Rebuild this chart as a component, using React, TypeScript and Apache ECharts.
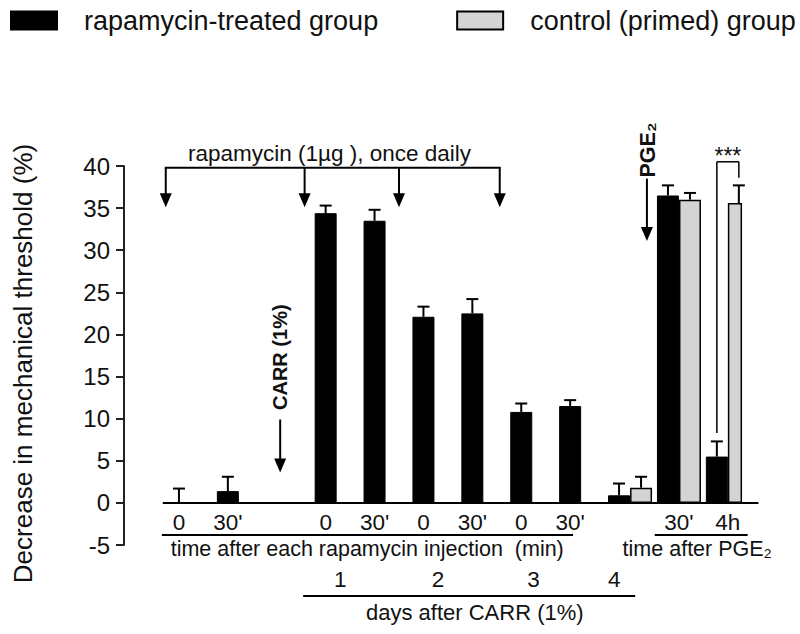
import React, { useEffect, useRef } from "react";
import * as echarts from "echarts";

// ---- data ----
const categories = ["d0-0", "d0-30", "CARR", "d1-0", "d1-30", "d2-0", "d2-30", "d3-0", "d3-30", "d4", "pge-30", "pge-4h"];
const timeTickLabels = ["0", "30'", "", "0", "30'", "0", "30'", "0", "30'", "", "", ""];
const pgeTickLabels = ["30'", "4h"];
const pgeTickSlots = [10, 11];
const dayTickLabels = ["1", "2", "3", "4"];
const dayTickSlots = [3.3, 5.3, 7.25, 8.9];
const rapamycinValues = [0, 1.4, null, 34.4, 33.5, 22.1, 22.5, 10.8, 11.5, 0.9, 36.5, 5.5];
const rapamycinErrTop = [1.7, 3.1, null, 35.3, 34.8, 23.3, 24.2, 11.8, 12.2, 2.3, 37.7, 7.3];
const controlValues = [null, null, null, null, null, null, null, null, null, 1.8, 36.0, 35.6];
const controlErrTop = [null, null, null, null, null, null, null, null, null, 3.1, 36.8, 37.7];
const rapaInjectionSlots = [-0.27, 2.57, 4.5, 6.56];
const yMin = -5;
const yMax = 40;
const yStep = 5;

const FONT = '"Liberation Sans", Arial, sans-serif';
const BAR_W = 22;

export default function App() {
  const ref = useRef<HTMLDivElement>(null);
  useEffect(() => {
    document.body.style.margin = "0";
    const chart = echarts.init(ref.current!, null, { renderer: "svg" });
    const errData: any[] = [];
    rapamycinValues.forEach((v, i) => {
      if (v !== null && rapamycinErrTop[i] !== null) errData.push([i, v, rapamycinErrTop[i], 0]);
    });
    controlValues.forEach((v, i) => {
      if (v !== null && controlErrTop[i] !== null) errData.push([i, v, controlErrTop[i], BAR_W]);
    });
    chart.setOption({
      animation: false,
      textStyle: { fontFamily: FONT },
      legend: {
        data: ["rapamycin-treated group", "control (primed) group"],
        left: 10,
        top: 7,
        padding: 0,
        itemWidth: 46,
        itemHeight: 18,
        itemGap: 78,
        icon: "rect",
        textStyle: { fontSize: 27, color: "#111", fontFamily: FONT, padding: [0, 0, 0, 22] },
      },
      grid: { left: 154.5, right: 58.7, top: 166, bottom: 89, containLabel: false },
      xAxis: {
        type: "category",
        data: categories,
        show: false,
      },
      yAxis: {
        type: "value",
        min: yMin,
        max: yMax,
        interval: yStep,
        offset: 30.5,
        name: "Decrease in mechanical threshold (%)",
        nameLocation: "middle",
        nameRotate: 90,
        nameGap: 88,
        nameTextStyle: { fontSize: 26, color: "#111", fontFamily: FONT, padding: [0, 16, 0, 0] },
        axisLine: { show: true, lineStyle: { color: "#222", width: 2 } },
        axisTick: { show: true, length: 8, lineStyle: { color: "#222", width: 2 } },
        axisLabel: { fontSize: 24, color: "#111", margin: 14, fontFamily: FONT },
        splitLine: { show: false },
      },
      series: [
        {
          name: "spacer",
          type: "bar",
          data: categories.map(() => null),
          barWidth: BAR_W,
          barGap: "0%",
          silent: true,
        },
        {
          name: "rapamycin-treated group",
          type: "bar",
          data: rapamycinValues,
          barWidth: BAR_W,
          barGap: "0%",
          itemStyle: { color: "#000", borderColor: "#000", borderWidth: 1 },
        },
        {
          name: "control (primed) group",
          type: "bar",
          data: controlValues,
          barWidth: BAR_W,
          barGap: "0%",
          itemStyle: { color: "#d4d4d4", borderColor: "#000", borderWidth: 1.5 },
        },
        {
          name: "err",
          type: "custom",
          data: errData,
          z: 5,
          renderItem: (_p: any, api: any) => {
            const x = api.value(0);
            const lo = api.coord([x, api.value(1)]);
            const hi = api.coord([x, api.value(2)]);
            const cx = lo[0] + api.value(3);
            return {
              type: "group",
              children: [
                { type: "line", shape: { x1: cx, y1: lo[1], x2: cx, y2: hi[1] }, style: { stroke: "#000", lineWidth: 2 } },
                { type: "line", shape: { x1: cx - 6, y1: hi[1], x2: cx + 6, y2: hi[1] }, style: { stroke: "#000", lineWidth: 2 } },
              ],
            };
          },
        },
      ],
    });

    const p0 = chart.convertToPixel({ xAxisIndex: 0, yAxisIndex: 0 }, [0, 0]) as number[];
    const p1 = chart.convertToPixel({ xAxisIndex: 0, yAxisIndex: 0 }, [1, 0]) as number[];
    const slotW = p1[0] - p0[0];
    const X = (f: number) => p0[0] + f * slotW;
    const Y = (v: number) => (chart.convertToPixel({ xAxisIndex: 0, yAxisIndex: 0 }, [0, v]) as number[])[1];
    const base = Y(0);
    const half = BAR_W / slotW / 2; // half bar offset in slots
    const g: any[] = [];
    const line = (x1: number, y1: number, x2: number, y2: number, w = 2) =>
      g.push({ type: "line", shape: { x1, y1, x2, y2 }, style: { stroke: "#000", lineWidth: w }, z: 10 });
    const text = (t: string, x: number, y: number, size: number, extra: any = {}, rot = 0) =>
      g.push({
        type: "text",
        x,
        y,
        rotation: rot,
        z: 10,
        style: { text: t, fill: "#111", fontSize: size, fontFamily: FONT, align: "center", verticalAlign: "middle", ...extra },
      });
    const arrowDown = (x: number, yTop: number, yTip: number) => {
      line(x, yTop, x, yTip - 12, 2);
      g.push({ type: "polygon", shape: { points: [[x - 6, yTip - 14], [x + 6, yTip - 14], [x, yTip]] }, style: { fill: "#000" }, z: 10 });
    };

    // baseline at zero
    line(X(-0.33), base, X(11.85), base, 2);

    // time tick labels
    timeTickLabels.forEach((t, i) => {
      if (t) text(t, X(i), base + 20, 22.5);
    });
    line(X(-0.35), base + 32, X(8.06), base + 32, 2);
    text("time after each rapamycin injection  (min)", (X(-0.25) + X(7.95)) / 2, base + 46, 21.5);

    // day labels
    dayTickLabels.forEach((t, i) => text(t, X(dayTickSlots[i]), base + 77, 22.5));
    line(X(2.54), base + 93, X(9.33), base + 93, 2);
    text("days after CARR (1%)", X(6.05), base + 110, 22);

    // PGE2 tick labels
    pgeTickLabels.forEach((t, i) => text(t, X(pgeTickSlots[i] + half), base + 20, 22.5));
    line(X(9.73), base + 32, X(11.63), base + 32, 2);
    text("time after PGE\u2082", X(10.6), base + 46, 21.5);

    // rapamycin injections
    const bracketY = Y(39.8);
    line(X(rapaInjectionSlots[0]) - 1, bracketY, X(rapaInjectionSlots[rapaInjectionSlots.length - 1]) + 1, bracketY, 2);
    rapaInjectionSlots.forEach((s) => arrowDown(X(s), bracketY, Y(35.1)));
    text("rapamycin (1\u00b5g ), once daily", X(3.08), Y(41.5), 22.5);

    // CARR arrow
    arrowDown(X(2.07), Y(9.9), Y(3.6));
    text("CARR (1%)", X(2.07), Y(17.3), 20, { fontWeight: "bold" }, Math.PI / 2);

    // PGE2 arrow
    arrowDown(X(9.57), Y(38.5), Y(31.1));
    text("PGE\u2082", X(9.6), Y(41.9), 21.5, { fontWeight: "bold" }, Math.PI / 2);

    // significance bracket
    const sL = X(11);
    const sR = X(11) + BAR_W;
    line(sL, Y(8.3), sL, Y(40.5), 1.5);
    line(sL, Y(40.5), sR, Y(40.5), 1.5);
    line(sR, Y(40.5), sR, Y(38.6), 1.5);
    text("***", (sL + sR) / 2, Y(41.2), 23);

    chart.setOption({ graphic: g });
    return () => chart.dispose();
  }, []);
  return <div ref={ref} style={{ width: 800, height: 634 }} />;
}
